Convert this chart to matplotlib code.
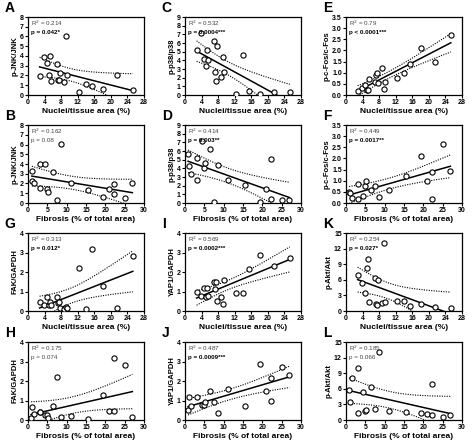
import numpy as np
import matplotlib
matplotlib.use("Agg")
import matplotlib.pyplot as plt

plt.rcParams['font.family'] = ['Liberation Sans', 'DejaVu Sans']

A_x = [2.8,3.8,4.5,5,5.2,5.6,7,7.2,7.6,7.8,8.8,9.2,9.3,12.3,14,15.5,18,21.6,25.3]
A_y = [1.9,3.9,3.3,2.0,4.0,1.4,3.2,1.5,1.5,2.3,1.3,6.1,2.0,0.3,1.1,0.9,0.6,2.1,0.5]
B_x = [1,1,1.5,3,3,4.5,5,5.2,6.5,7.5,8.5,11,15.5,19.5,21,22.3,22.3,25,27]
B_y = [2.3,3.3,2.0,4.0,1.5,4.0,1.4,1.1,3.2,0.3,6.1,2.0,1.3,0.6,1.4,1.9,0.9,0.5,2.1]
C_x = A_x
C_y = [5.2,7.1,4.2,3.4,5.2,4.0,6.2,2.6,1.6,5.6,2.1,4.4,2.7,0.1,4.6,0.5,0.1,0.3,0.4]
D_x = [0.8,1,1.5,3,3,4.5,5,5.2,6.5,7.5,8.5,11,15.5,19.5,21,22.3,22.3,25,27]
D_y = [5.6,4.3,3.4,5.2,2.7,7.1,4.0,4.6,6.2,0.1,4.4,2.7,2.1,0.1,1.6,5.1,0.5,0.4,0.3]
E_x = [2.8,3.8,4.5,5,5.2,5.6,7,7.2,7.6,7.8,8.8,9.2,9.3,12.3,14,15.5,18,21.6,25.3]
E_y = [0.2,0.3,0.45,0.22,0.22,0.72,0.57,0.88,1.0,0.55,1.2,0.25,0.58,0.75,1.0,1.4,2.1,1.5,2.7]
F_x = D_x
F_y = [0.5,0.45,0.22,0.2,0.85,0.3,0.75,1.0,0.57,0.75,0.25,0.58,1.2,2.1,1.0,0.2,1.4,2.65,1.45]
G_x = A_x
G_y = [0.45,0.3,0.7,0.3,0.45,0.3,0.72,0.4,0.45,0.15,0.1,0.2,0.15,2.2,0.1,3.2,1.3,0.15,2.8]
H_x = D_x
H_y = [0.1,0.65,0.3,0.4,0.4,0.25,0.25,0.1,0.7,2.2,0.15,0.2,0.05,1.3,0.45,3.2,0.45,2.8,0.15]
I_x = A_x
I_y = [1.0,0.75,1.2,0.7,1.2,0.78,1.5,1.15,1.5,0.5,0.7,0.35,1.6,0.9,0.9,2.15,2.85,2.3,2.7]
J_x = [0.8,1,1.5,3,4.5,5,5.2,6.5,7.5,8.5,11,15.5,19.5,21,22.3,22.3,25,27]
J_y = [0.5,1.2,0.7,1.2,0.75,0.75,0.9,1.5,0.9,0.35,1.6,0.7,2.85,1.5,2.15,1.0,2.7,2.3]
K_x = A_x
K_y = [6.9,5.3,3.5,8.2,10.0,1.8,6.4,1.3,1.1,5.9,1.6,13.1,1.7,2.0,2.0,1.0,1.3,0.8,0.6]
L_x = D_x
L_y = [5.8,3.5,8.0,10.0,1.4,5.3,1.8,2.0,6.3,2.1,13.1,1.7,1.6,1.4,1.1,6.9,1.0,0.6,0.9]

r2 = {'A':'0.214','B':'0.162','C':'0.532','D':'0.414','E':'0.79','F':'0.449',
      'G':'0.313','H':'0.175','I':'0.569','J':'0.487','K':'0.254','L':'0.185'}
pv = {'A':'p = 0.042*','B':'p = 0.08','C':'p = 0.0004***','D':'p = 0.003**',
      'E':'p < 0.0001***','F':'p = 0.0017**','G':'p = 0.012*','H':'p = 0.074',
      'I':'p = 0.0002***','J':'p = 0.0009***','K':'p = 0.027*','L':'p = 0.066'}
sig = {'A':True,'B':False,'C':True,'D':True,'E':True,'F':True,'G':True,'H':False,
       'I':True,'J':True,'K':True,'L':False}
ylabels = {'A':'p-JNK/JNK','B':'p-JNK/JNK','C':'p-p38/p38','D':'p-p38/p38',
           'E':'p-c-Fos/c-Fos','F':'p-c-Fos/c-Fos','G':'FAK/GAPDH','H':'FAK/GAPDH',
           'I':'YAP1/GAPDH','J':'YAP1/GAPDH','K':'p-Akt/Akt','L':'p-Akt/Akt'}
yaxes = {'A':(8,1),'C':(9,1),'E':(3.5,0.5),'G':(4,1),'I':(4,1),'K':(15,3)}
data = {'A':(A_x,A_y),'B':(B_x,B_y),'C':(C_x,C_y),'D':(D_x,D_y),'E':(E_x,E_y),'F':(F_x,F_y),
        'G':(G_x,G_y),'H':(H_x,H_y),'I':(I_x,I_y),'J':(J_x,J_y),'K':(K_x,K_y),'L':(L_x,L_y)}
grid = [['A','C','E'],['B','D','F'],['G','I','K'],['H','J','L']]
lefts = [28, 185, 346]
tops = [17, 125, 233, 342]
W, H = 474, 448
aw, ah = 116, 78

fig = plt.figure(figsize=(4.74, 4.48), dpi=100)
for r, row in enumerate(grid):
    for c, k in enumerate(row):
        ax = fig.add_axes([lefts[c]/W, 1-(tops[r]+ah)/H, aw/W, ah/H])
        x = np.array(data[k][0]); y = np.array(data[k][1])
        nuc = (r % 2 == 0)
        xmax, xstep = (28, 4) if nuc else (30, 5)
        base = grid[r - (r % 2)][c]
        ymax, ystep = yaxes[base]
        n = len(x)
        b, a = np.polyfit(x, y, 1)
        res = y - (a + b*x)
        s = np.sqrt(np.sum(res**2)/(n-2))
        xm = x.mean(); sxx = np.sum((x-xm)**2)
        xs = np.linspace(x.min(), x.max(), 100)
        yh = a + b*xs
        se = s*np.sqrt(1/n + (xs-xm)**2/sxx)
        t = 2.11
        ax.plot(xs, yh, color='black', lw=1.1, zorder=2)
        ax.plot(xs, yh+t*se, color='black', lw=0.8, ls=(0, (1, 1.2)), zorder=2)
        ax.plot(xs, yh-t*se, color='black', lw=0.8, ls=(0, (1, 1.2)), zorder=2)
        ax.scatter(x, y, s=14, facecolors='white', edgecolors='black', linewidths=0.8, zorder=3)
        ax.set_xlim(0, xmax); ax.set_ylim(0, ymax)
        ax.set_xticks(np.arange(0, xmax+0.01, xstep))
        ax.set_yticks(np.arange(0, ymax+0.01, ystep))
        if ystep == 0.5:
            ax.set_yticklabels([f'{v:.1f}' for v in np.arange(0, ymax+0.01, ystep)])
        ax.tick_params(labelsize=5, length=2, width=0.8, pad=1)
        for lab in ax.get_xticklabels()+ax.get_yticklabels():
            lab.set_fontweight('bold')
        for sp in ax.spines.values():
            sp.set_linewidth(0.9)
        ax.set_xlabel('Nuclei/tissue area (%)' if nuc else 'Fibrosis (% of total area)',
                      fontsize=6, fontweight='bold', labelpad=1)
        ax.set_ylabel(ylabels[k], fontsize=5.5, fontweight='bold', labelpad=1)
        ax.text(0.03, 0.98, f'R$^2$ = {r2[k]}', transform=ax.transAxes, fontsize=4.5,
                va='top', color='#444444')
        ax.text(0.03, 0.83, pv[k], transform=ax.transAxes, fontsize=4.5, va='top',
                fontweight='bold' if sig[k] else 'normal', color='black' if sig[k] else '#444444')
        ax.text(-0.2, 1.02, k, transform=ax.transAxes, fontsize=10, fontweight='bold',
                va='bottom', ha='left')

fig.savefig('out.png', dpi=100)
